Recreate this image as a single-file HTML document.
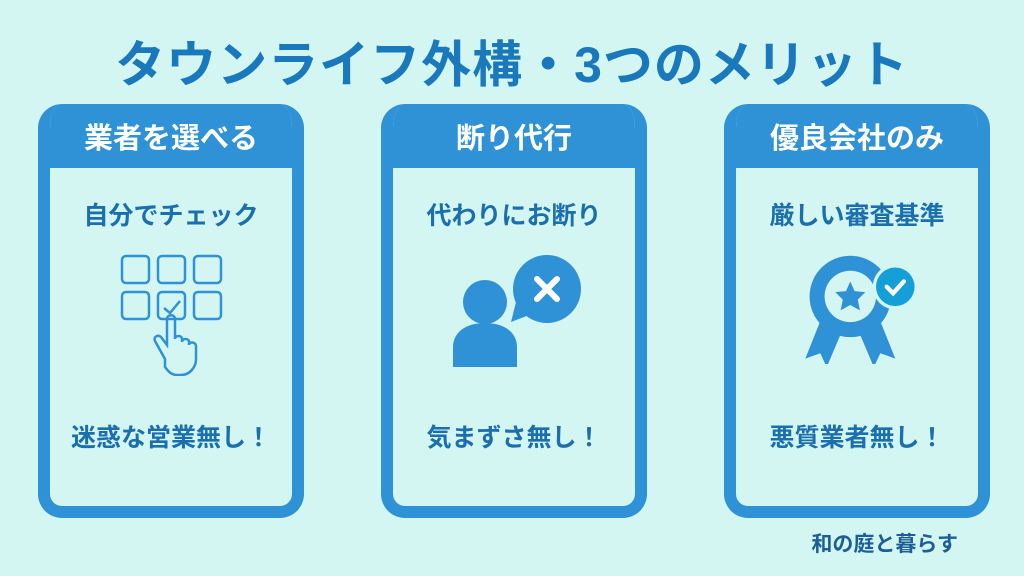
<!DOCTYPE html>
<html><head><meta charset="utf-8"><style>
body{margin:0;width:1024px;height:576px;background:#d3f6f2;position:relative;overflow:hidden;font-family:"Liberation Sans","Noto Sans CJK JP",sans-serif;font-weight:bold}
.t{position:absolute;left:0;width:1024px;top:25px;text-align:center;font-size:50px;color:#1a78bd;letter-spacing:1px}
.card{position:absolute;top:104px;width:242px;height:402px;border:12px solid #2f91d6;border-top:0;border-radius:24px;background:#d3f6f2;overflow:hidden}
.hd{height:64px;background:#2f91d6;color:#fff;font-size:29px;text-align:center;line-height:70px}
.s{position:absolute;left:0;width:100%;text-align:center;font-size:25px;color:#1b6fae}
.f{position:absolute;right:66px;bottom:18px;font-size:21px;color:#1b5f96}
svg{position:absolute}
</style></head><body>
<div class="t">タウンライフ外構・3つのメリット</div>
<div class="card" style="left:38px"><div class="hd">業者を選べる</div>
<div class="s" style="top:92px">自分でチェック</div>
<svg style="left:59px;top:147px" width="120" height="125" viewBox="0 0 120 125" fill="none" stroke="#2f91d6" stroke-width="2.5">
<rect x="13" y="5" width="27" height="27" rx="4"/><rect x="49" y="5" width="27" height="27" rx="4"/><rect x="85" y="5" width="27" height="27" rx="4"/>
<rect x="13" y="41" width="27" height="27" rx="4"/><rect x="49" y="41" width="27" height="27" rx="4"/><rect x="85" y="41" width="27" height="27" rx="4"/>
<path d="M55 57l6 5 10-12"/>
<path d="M56 108 46 90c-2-4 3-7 6-4l6 8V68c0-5 8-5 8 0v20c0-4 7-4 7 0v3c0-4 7-4 7 0v3c0-4 7-3 7 1v13c0 8-6 16-15 16h-4c-6 0-9-4-12-8z"/>
</svg>
<div class="s" style="top:314px">迷惑な営業無し！</div></div>

<div class="card" style="left:381px"><div class="hd">断り代行</div>
<div class="s" style="top:92px">代わりにお断り</div>
<svg style="left:48px;top:148px" width="140" height="122" viewBox="0 0 140 122">
<circle cx="44" cy="50" r="22" fill="#2f91d6"/>
<path d="M12 115v-20c0-14 12-24 32-24s32 10 32 24v20z" fill="#2f91d6"/>
<circle cx="106" cy="37" r="34" fill="#2f91d6"/><path d="M76 46 70 70 96 60z" fill="#2f91d6"/>
<path d="M96 27l20 20M116 27 96 47" stroke="#fff" stroke-width="6" stroke-linecap="round"/>
</svg>
<div class="s" style="top:314px">気まずさ無し！</div></div>

<div class="card" style="left:724px"><div class="hd">優良会社のみ</div>
<div class="s" style="top:92px">厳しい審査基準</div>
<svg style="left:50px;top:142px" width="150" height="118" viewBox="0 0 140 110">
<path d="M32 70 18 105l14-5 6 13 14-33zM88 70l14 35-14-5-6 13-14-33z" fill="#2f91d6"/>
<circle cx="60" cy="47" r="38" fill="#2f91d6"/>
<circle cx="60" cy="47" r="24" fill="#d3f6f2"/>
<path d="M60 33l4 9 10 1-7 7 2 10-9-5-9 5 2-10-7-7 10-1z" fill="#2f91d6"/>
<circle cx="102" cy="38" r="21" fill="#d3f6f2"/><circle cx="102" cy="38" r="18" fill="#159fd8"/>
<path d="M94 38l6 6 10-11" stroke="#fff" stroke-width="4" fill="none" stroke-linecap="round"/>
</svg>
<div class="s" style="top:314px">悪質業者無し！</div></div>
<div class="f">和の庭と暮らす</div>
</body></html>
